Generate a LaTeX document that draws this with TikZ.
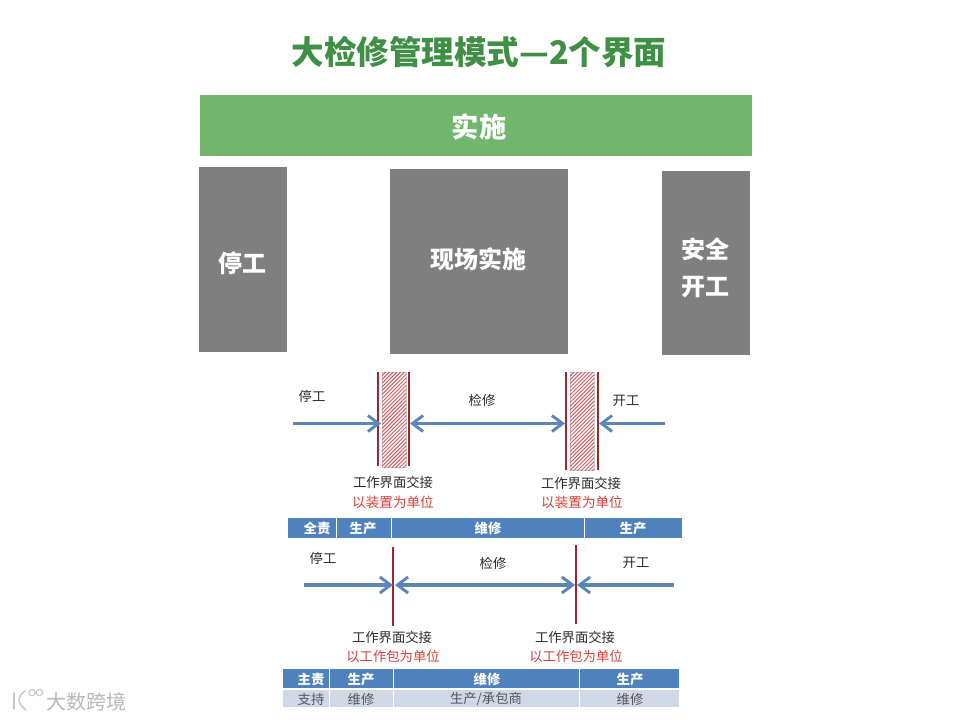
\documentclass[tikz,border=0pt]{standalone}
\usepackage{fontspec}
\setmainfont{Noto Sans CJK SC}
\usetikzlibrary{arrows.meta,patterns.meta}
\definecolor{titlegreen}{HTML}{3F8F45}
\definecolor{bargreen}{HTML}{72B56C}
\definecolor{boxgray}{HTML}{7F7F7F}
\definecolor{flowblue}{HTML}{5B86B8}
\definecolor{tableblue}{HTML}{4F81BD}
\definecolor{tablepale}{HTML}{D0D8E8}
\definecolor{barred}{HTML}{A3232E}
\definecolor{labelred}{HTML}{D8403A}
\definecolor{labeldark}{HTML}{2B2B2B}
\tikzset{
  x=0.75pt,y=-0.75pt,
  headtext/.style={text=white,font=\fontsize{18}{18}\selectfont\bfseries,inner sep=0pt},
  flowtext/.style={text=labeldark,font=\fontsize{10}{10}\selectfont,inner sep=0pt},
  redtext/.style={text=labelred,font=\fontsize{10.2}{11}\selectfont,inner sep=0pt},
  cellhead/.style={text=white,font=\fontsize{10}{10}\selectfont\bfseries,inner sep=0pt},
  cellbody/.style={text=labeldark!80,font=\fontsize{10}{10}\selectfont,inner sep=0pt},
  flow/.style={draw=flowblue,line width=2.4pt,-{Straight Barb[length=8pt,width=12pt,line width=2.2pt]}},
  flowboth/.style={draw=flowblue,line width=2.4pt,{Straight Barb[length=8pt,width=12pt,line width=2.2pt]}-{Straight Barb[length=8pt,width=12pt,line width=2.2pt]}},
  redbar/.style={draw=barred,line width=2.2pt},
  hatchbox/.style={draw=black!20,line width=0.3pt,fill=red!8,postaction={pattern={Lines[angle=45,distance=2pt,line width=0.6pt]},pattern color=barred!75}},
  divider/.style={draw=white,line width=0.7pt},
}
\begin{document}
\begin{tikzpicture}
\useasboundingbox (0,0) rectangle (960,720);
\fill[white] (0,0) rectangle (960,720);

% title
\node[text=titlegreen,font=\fontsize{24.4}{24}\selectfont\bfseries,inner sep=0pt] (title) at (479,52) {大检修管理模式—2个界面};

% upper blocks
\fill[bargreen] (200,95) rectangle (752,156);
\node[headtext,font=\fontsize{20.5}{20}\selectfont\bfseries] (impl) at (479,127) {实施};
\fill[boxgray] (199,167) rectangle (287,352);
\fill[boxgray] (390,169) rectangle (568,354);
\fill[boxgray] (662,171) rectangle (750,355);
\node[headtext] (stop) at (242,263) {停工};
\node[headtext] (site) at (478,259) {现场实施};
\node[headtext] (safeA) at (705,249) {安全};
\node[headtext] (safeB) at (705,287) {开工};

% first timeline
\fill[hatchbox] (382,372) rectangle (406,467);
\fill[hatchbox] (570,372) rectangle (594,470);
\coordinate (a1t) at (378,372); \coordinate (a1b) at (378,466);
\coordinate (a2t) at (409,372); \coordinate (a2b) at (409,466);
\coordinate (a3t) at (566,372); \coordinate (a3b) at (566,470);
\coordinate (a4t) at (598,372); \coordinate (a4b) at (598,470);
\draw[redbar] (a1t) -- (a1b);
\draw[redbar] (a2t) -- (a2b);
\draw[redbar] (a3t) -- (a3b);
\draw[redbar] (a4t) -- (a4b);
\coordinate (as) at (293,423.5); \coordinate (ae) at (665,423.5);
\coordinate (am1) at (381,423.5); \coordinate (am2) at (410,423.5);
\coordinate (am3) at (565,423.5); \coordinate (am4) at (599,423.5);
\draw[flow] (as) -- (am1);
\draw[flowboth] (am2) -- (am3);
\draw[flow] (ae) -- (am4);
\node[flowtext] (t1) at (312,396) {停工};
\node[flowtext] (t2) at (482,400.5) {检修};
\node[flowtext] (t3) at (626,400.5) {开工};
\node[flowtext] (t4) at (393,482) {工作界面交接};
\node[flowtext] (t5) at (581,483) {工作界面交接};
\node[redtext] (t6) at (393,502) {以装置为单位};
\node[redtext] (t7) at (582,502) {以装置为单位};

% first table
\fill[tableblue] (288,518) rectangle (682,538);
\draw[divider] (336,518) -- (336,538);
\draw[divider] (391,518) -- (391,538);
\draw[divider] (584,518) -- (584,538);
\node[cellhead] (c1) at (317,528.5) {全责};
\node[cellhead] (c2) at (363,528.5) {生产};
\node[cellhead] (c3) at (488,528.5) {维修};
\node[cellhead] (c4) at (633,528.5) {生产};

% second timeline
\coordinate (b1t) at (393,547); \coordinate (b1b) at (393,626);
\coordinate (b2t) at (576,545); \coordinate (b2b) at (576,624);
\draw[redbar] (b1t) -- (b1b);
\draw[redbar] (b2t) -- (b2b);
\coordinate (bs) at (304,585); \coordinate (be) at (674,585);
\coordinate (bm1) at (393,585); \coordinate (bm2) at (395,585);
\coordinate (bm3) at (575,585); \coordinate (bm4) at (577,585);
\draw[flow] (bs) -- (bm1);
\draw[flowboth] (bm2) -- (bm3);
\draw[flow] (be) -- (bm4);
\node[flowtext] (u1) at (323,558) {停工};
\node[flowtext] (u2) at (493,563) {检修};
\node[flowtext] (u3) at (636,563) {开工};
\node[flowtext] (u4) at (392,637) {工作界面交接};
\node[flowtext] (u5) at (575,637) {工作界面交接};
\node[redtext,font=\fontsize{10}{10}\selectfont] (u6) at (393,656) {以工作包为单位};
\node[redtext,font=\fontsize{10}{10}\selectfont] (u7) at (576,656) {以工作包为单位};

% second table
\fill[tableblue] (283,669) rectangle (679,688);
\fill[tablepale] (283,690) rectangle (679,707);
\draw[divider] (329,669) -- (329,707);
\draw[divider] (393,669) -- (393,707);
\draw[divider] (579,669) -- (579,707);
\node[cellhead] (d1) at (311,679) {主责};
\node[cellhead] (d2) at (361,679) {生产};
\node[cellhead] (d3) at (487,679) {维修};
\node[cellhead] (d4) at (630,679) {生产};
\node[cellbody] (e1) at (311,699) {支持};
\node[cellbody] (e2) at (361,699) {维修};
\node[cellbody] (e3) at (486,699) {生产/承包商};
\node[cellbody] (e4) at (630,699) {维修};

% watermark
\draw[black!22,line width=1.1pt,line cap=round] (14,693) -- (14,709);
\draw[black!22,line width=1.1pt,line cap=round] (25,691) .. controls (17,697) and (17,703) .. (26,710);
\draw[black!22,line width=0.8pt] (32,692.5) circle (3.2) (39.5,692.5) circle (3.2);
\node[text=black!28,font=\fontsize{15}{15}\selectfont,inner sep=0pt] (wm) at (86,702) {大数跨境};
\end{tikzpicture}
\end{document}
